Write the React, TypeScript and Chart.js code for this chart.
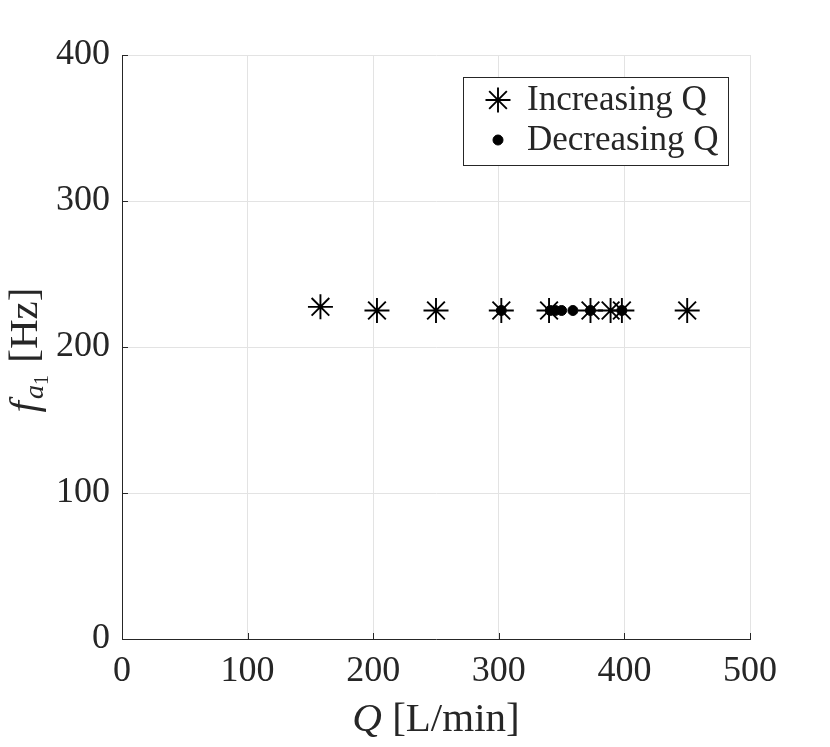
import { Chart, registerables } from "chart.js";
import type { Plugin } from "chart.js";
import { drawPoint } from "chart.js/helpers";
import { useEffect, useRef } from "react";

Chart.register(...registerables);

const increasingQ = [158, 203, 250, 302, 340, 373, 389, 398, 450];
const increasingF = [227.5, 225, 225, 225, 225, 225, 225, 225, 225];
const decreasingQ = [302, 341, 345, 350, 359, 373, 398];
const decreasingF = [225, 225, 225, 225, 225, 225, 225];
const xTicks = [0, 100, 200, 300, 400, 500];
const yTicks = [0, 100, 200, 300, 400];
const seriesLabels = ["Increasing Q", "Decreasing Q"];

const SERIF = '"Liberation Serif", "DejaVu Serif", serif';
const INK = "#262626";

// inward tick marks, axis titles and the boxed legend (MATLAB look)
const decorations: Plugin<"scatter"> = {
  id: "decorations",
  afterDraw(chart) {
    const { ctx, chartArea, scales } = chart;
    ctx.save();

    ctx.strokeStyle = INK;
    ctx.lineWidth = 1;
    ctx.beginPath();
    for (const v of xTicks) {
      const x = Math.round(scales.x.getPixelForValue(v)) + 0.5;
      ctx.moveTo(x, chartArea.bottom);
      ctx.lineTo(x, chartArea.bottom - 6);
    }
    for (const v of yTicks) {
      const y = Math.round(scales.y.getPixelForValue(v)) + 0.5;
      ctx.moveTo(chartArea.left, y);
      ctx.lineTo(chartArea.left + 6, y);
    }
    ctx.stroke();

    ctx.fillStyle = INK;
    ctx.textBaseline = "alphabetic";
    ctx.textAlign = "left";

    // x title: Q [L/min]
    ctx.font = `italic 41px ${SERIF}`;
    const qw = ctx.measureText("Q").width;
    ctx.font = `41px ${SERIF}`;
    const restW = ctx.measureText(" [L/min]").width;
    const cx = (chartArea.left + chartArea.right) / 2;
    const x0 = cx - (qw + restW) / 2;
    ctx.font = `italic 41px ${SERIF}`;
    ctx.fillText("Q", x0, 731);
    ctx.font = `41px ${SERIF}`;
    ctx.fillText(" [L/min]", x0 + qw, 731);

    // y title: f_{a_1} [Hz]
    const parts = [
      { t: "f", font: `italic 41px ${SERIF}`, dy: 0 },
      { t: "a", font: `italic 28px ${SERIF}`, dy: 6 },
      { t: "1", font: `20px ${SERIF}`, dy: 11 },
      { t: " [Hz]", font: `41px ${SERIF}`, dy: 0 },
    ];
    const widths = parts.map((p) => {
      ctx.font = p.font;
      return ctx.measureText(p.t).width;
    });
    const total = widths.reduce((a, b) => a + b, 0) + 4;
    ctx.save();
    ctx.translate(37, (chartArea.top + chartArea.bottom) / 2 + 3);
    ctx.rotate(-Math.PI / 2);
    let px = -total / 2;
    parts.forEach((p, i) => {
      ctx.font = p.font;
      if (i === 1) px += 2;
      ctx.fillText(p.t, px, p.dy);
      px += widths[i];
      if (i === 2) px += 2;
    });
    ctx.restore();

    // legend box
    const bx = 463.5;
    const by = 77.5;
    ctx.fillStyle = "#ffffff";
    ctx.fillRect(bx, by, 265, 88);
    ctx.strokeStyle = INK;
    ctx.lineWidth = 1;
    ctx.strokeRect(bx, by, 265, 88);
    chart.data.datasets.forEach((ds: any, i) => {
      const y = 100 + i * 40;
      ctx.fillStyle = "#000000";
      ctx.strokeStyle = "#000000";
      ctx.lineWidth = ds.borderWidth;
      drawPoint(
        ctx,
        { pointStyle: ds.pointStyle, radius: ds.pointRadius, rotation: 0, borderWidth: ds.borderWidth },
        498,
        y
      );
      ctx.fillStyle = INK;
      ctx.font = `35px ${SERIF}`;
      ctx.textBaseline = "middle";
      ctx.fillText(ds.label, 527, y + 1);
    });

    ctx.restore();
  },
};

export default function App() {
  const canvasRef = useRef<HTMLCanvasElement>(null);

  useEffect(() => {
    document.body.style.margin = "0";
    const chart = new Chart(canvasRef.current!, {
      type: "scatter",
      data: {
        datasets: [
          {
            label: seriesLabels[0],
            data: increasingQ.map((q, i) => ({ x: q, y: increasingF[i] })),
            pointStyle: "star",
            pointRadius: 12.5,
            borderWidth: 1.9,
            borderColor: "#000000",
            backgroundColor: "#000000",
          },
          {
            label: seriesLabels[1],
            data: decreasingQ.map((q, i) => ({ x: q, y: decreasingF[i] })),
            pointStyle: "circle",
            pointRadius: 5,
            borderWidth: 1,
            borderColor: "#000000",
            backgroundColor: "#000000",
          },
        ],
      },
      options: {
        animation: false,
        responsive: false,
        devicePixelRatio: 1,
        events: [],
        layout: { padding: { top: 55, right: 80, left: 0, bottom: 0 } },
        plugins: {
          legend: { display: false },
          tooltip: { enabled: false },
        },
        scales: {
          x: {
            type: "linear",
            min: 0,
            max: 500,
            afterBuildTicks: (scale) => {
              scale.ticks = xTicks.map((value) => ({ value }));
            },
            afterFit: (scale) => {
              scale.height = 108;
            },
            grid: { color: "#e3e3e3", lineWidth: 1, drawTicks: false },
            border: { color: INK, width: 1 },
            ticks: {
              padding: 11,
              color: INK,
              maxRotation: 0,
              font: { family: SERIF, size: 36 },
            },
          },
          y: {
            type: "linear",
            min: 0,
            max: 400,
            afterBuildTicks: (scale) => {
              scale.ticks = yTicks.map((value) => ({ value }));
            },
            afterFit: (scale) => {
              scale.width = 122;
            },
            grid: { color: "#e3e3e3", lineWidth: 1, drawTicks: false },
            border: { color: INK, width: 1 },
            ticks: {
              padding: 12,
              color: INK,
              font: { family: SERIF, size: 36 },
            },
          },
        },
      },
      plugins: [decorations],
    });

    return () => chart.destroy();
  }, []);

  return (
    <div style={{ width: 830, height: 747, background: "#ffffff" }}>
      <canvas ref={canvasRef} width={830} height={747}></canvas>
    </div>
  );
}
